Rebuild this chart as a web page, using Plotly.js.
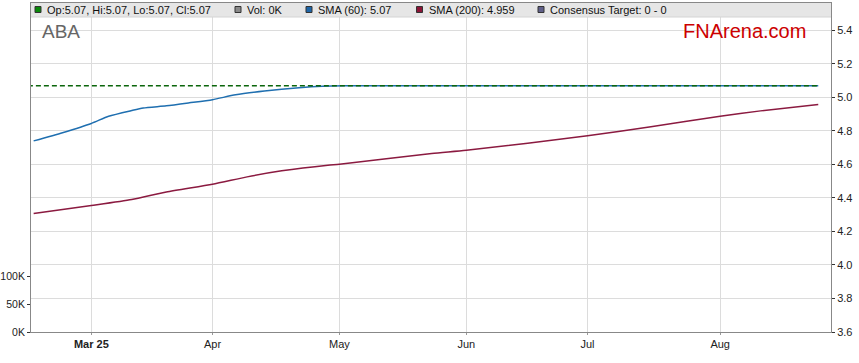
<!DOCTYPE html>
<html>
<head>
<meta charset="utf-8">
<script src="https://cdn.plot.ly/plotly-3.0.1.min.js"></script>
<style>
html,body{margin:0;padding:0;background:#fff;}
#chart{width:859px;height:363px;}
</style>
</head>
<body>
<div id="chart"></div>
<script>
// ---- data ----
const priceDates = ['2025-02-14', '2025-08-26'];
const priceClose = [5.07, 5.07];

const sma60Dates = ['2025-02-17','2025-02-24','2025-03-03','2025-03-06','2025-03-12','2025-03-14','2025-03-20','2025-03-26','2025-04-01','2025-04-07','2025-04-14','2025-04-22','2025-04-28','2025-05-02','2025-06-02','2025-07-01','2025-08-01','2025-08-26'];
const sma60Values = [4.741, 4.790, 4.845, 4.888, 4.922, 4.937, 4.950, 4.968, 4.987, 5.016, 5.038, 5.058, 5.067, 5.070, 5.070, 5.070, 5.070, 5.070];

const sma200Dates = ['2025-02-17','2025-03-03','2025-03-12','2025-03-20','2025-04-01','2025-04-09','2025-04-17','2025-04-29','2025-05-01','2025-05-23','2025-06-02','2025-07-01','2025-07-16','2025-08-01','2025-08-12','2025-08-26'];
const sma200Values = [4.307, 4.355, 4.391, 4.436, 4.482, 4.526, 4.562, 4.596, 4.602, 4.666, 4.685, 4.771, 4.825, 4.888, 4.920, 4.958];

const volDates = ['2025-02-17', '2025-08-26'];
const volValues = [0, 0];

const xTickVals = ['2025-03-03','2025-04-01','2025-05-01','2025-06-02','2025-07-01','2025-08-01'];
const xTickText = ['<b>Mar 25</b>','Apr','May','Jun','Jul','Aug'];
const priceTicks = [3.6, 3.8, 4.0, 4.2, 4.4, 4.6, 4.8, 5.0, 5.2, 5.4];
const volTickVals = [0, 50000, 100000];
const volTickText = ['0K','50K','100K'];

const headerItems = [
  {text: 'Op:5.07, Hi:5.07, Lo:5.07, Cl:5.07', color: '#0a8a0a'},
  {text: 'Vol: 0K', color: '#8a8a8a'},
  {text: 'SMA (60): 5.07', color: '#1f66a8'},
  {text: 'SMA (200): 4.959', color: '#8b1436'},
  {text: 'Consensus Target: 0 - 0', color: '#60608a'}
];
const headerX = [35, 235, 306, 416.5, 538];

// ---- geometry helpers ----
const L = 31, R = 28, T = 3, B = 31, W = 859, H = 363;
const PW = W - L - R, PH = H - T - B;
const px = x => (x - L) / PW;
const py = y => (H - B - y) / PH;

const shapes = [
  {type:'rect', xref:'paper', yref:'paper', x0:0, x1:1, y0:py(17), y1:1,
   fillcolor:'#e6e6e6', line:{width:0}, layer:'above'},
  {type:'line', xref:'paper', yref:'paper', x0:0, x1:1, y0:py(17), y1:py(17),
   line:{color:'#d4d4d4', width:1}, layer:'above'}
];
const annotations = [];
headerItems.forEach((it, i) => {
  const x0 = headerX[i];
  shapes.push({type:'rect', xref:'paper', yref:'paper',
    x0:px(x0), x1:px(x0+6), y0:py(12.5), y1:py(6.5),
    fillcolor:it.color, line:{color:'#333', width:1}, layer:'above'});
  annotations.push({xref:'paper', yref:'paper', x:px(x0+10), y:py(10),
    xanchor:'left', yanchor:'middle', showarrow:false, text:it.text,
    font:{family:'Liberation Sans, Arial, sans-serif', size:11, color:'#111'}});
});
annotations.push({xref:'paper', yref:'paper', x:px(40), y:py(32),
  xanchor:'left', yanchor:'middle', showarrow:false, text:'ABA',
  font:{family:'Liberation Sans, Arial, sans-serif', size:19, color:'#666'}});
annotations.push({xref:'paper', yref:'paper', x:px(808), y:py(31),
  xanchor:'right', yanchor:'middle', showarrow:false, text:'FNArena.com',
  font:{family:'Liberation Sans, Arial, sans-serif', size:20, color:'#cc0000'}});

const traces = [
  {x: volDates, y: volValues, type:'bar', yaxis:'y2', marker:{color:'#888'}, hoverinfo:'skip'},
  {x: sma200Dates, y: sma200Values, type:'scatter', mode:'lines', line:{color:'#8b1a40', width:1.5, shape:'spline', smoothing:0.6}},
  {x: sma60Dates, y: sma60Values, type:'scatter', mode:'lines', line:{color:'#1f6fb0', width:1.5, shape:'spline', smoothing:0.6}},
  {x: priceDates, y: priceClose, type:'scatter', mode:'lines', line:{color:'#0b650b', width:1.4, dash:'5px,3px'}}
];

const layout = {
  width: W, height: H,
  margin: {l:L, r:R, t:T, b:B, pad:0},
  paper_bgcolor:'#fff', plot_bgcolor:'#fff',
  showlegend:false,
  font:{family:'Liberation Sans, Arial, sans-serif', size:11, color:'#222'},
  xaxis: {
    type:'date', range:['2025-02-14 13:00','2025-08-28 05:00'],
    rangebreaks:[{bounds:['sat','mon']}],
    tickmode:'array', tickvals:xTickVals, ticktext:xTickText,
    showgrid:true, gridcolor:'#dcdcdc', gridwidth:1,
    showline:true, linecolor:'#888', linewidth:1, mirror:true,
    ticks:'outside', ticklen:2, tickcolor:'#999',
    zeroline:false, fixedrange:true
  },
  yaxis: {
    side:'right', range:[3.6, 5.564],
    tickmode:'array', tickvals:priceTicks,
    ticktext: priceTicks.map(v => v.toFixed(1)),
    showgrid:true, gridcolor:'#dcdcdc', gridwidth:1,
    showline:true, linecolor:'#888', linewidth:1,
    ticks:'outside', ticklen:3, tickcolor:'#333',
    zeroline:false, fixedrange:true
  },
  yaxis2: {
    overlaying:'y', side:'left', anchor:'x', range:[0, 587500],
    tickmode:'array', tickvals:volTickVals, ticktext:volTickText,
    tickfont:{size:10.5},
    showgrid:false, showline:true, linecolor:'#888', linewidth:1,
    ticks:'outside', ticklen:3, tickcolor:'#333',
    zeroline:false, fixedrange:true
  },
  shapes: shapes,
  annotations: annotations
};

Plotly.newPlot('chart', traces, layout, {displayModeBar:false, staticPlot:true});
</script>
</body>
</html>
